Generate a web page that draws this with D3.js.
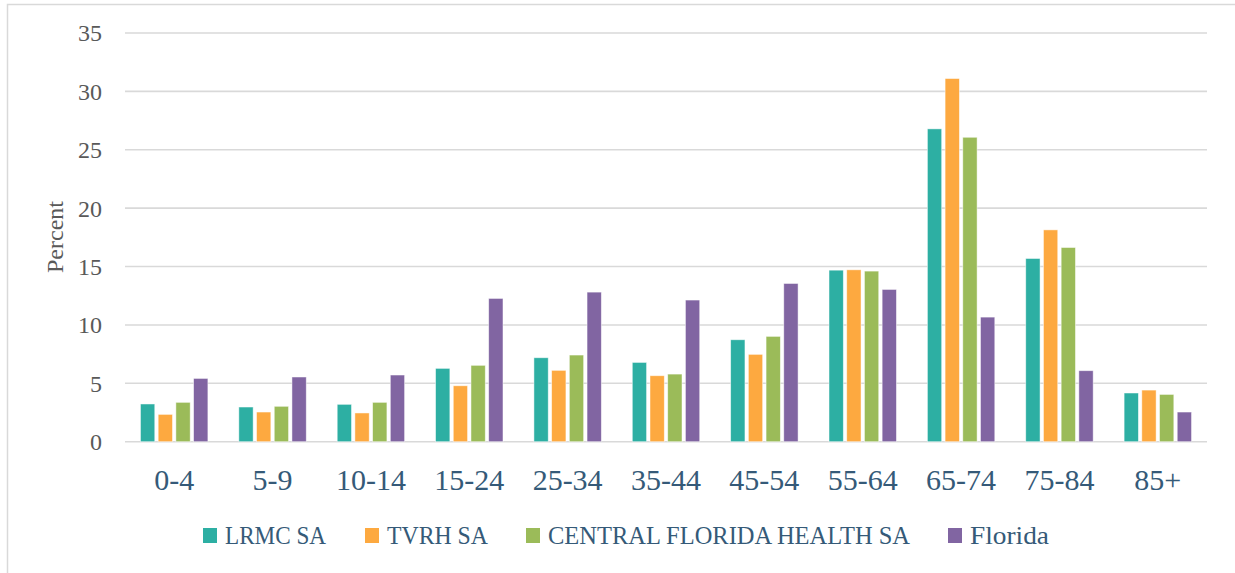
<!DOCTYPE html>
<html>
<head>
<meta charset="utf-8">
<script src="https://cdn.jsdelivr.net/npm/d3@7"></script>
<style>
  html, body { margin: 0; padding: 0; background: #fff; }
  svg { display: block; font-family: "Liberation Serif", "DejaVu Serif", serif; }
</style>
</head>
<body>
<svg id="chart" width="1235" height="573"></svg>
<script>
// Age groups and series (percent)
const categories = ["0-4", "5-9", "10-14", "15-24", "25-34", "35-44", "45-54", "55-64", "65-74", "75-84", "85+"];
const seriesNames = ["LRMC SA", "TVRH SA", "CENTRAL FLORIDA HEALTH SA", "Florida"];
const seriesColors = ["#2DAFA3", "#FDA940", "#9BBB59", "#8165A2"];

const lrmc    = [3.23, 2.97, 3.2, 6.28, 7.19, 6.79, 8.73, 14.69, 26.79, 15.69, 4.17];
const tvrh    = [2.34, 2.54, 2.46, 4.79, 6.11, 5.65, 7.48, 14.72, 31.1, 18.14, 4.42];
const central = [3.37, 3.03, 3.37, 6.54, 7.42, 5.79, 9.02, 14.61, 26.07, 16.63, 4.05];
const florida = [5.42, 5.54, 5.71, 12.27, 12.81, 12.13, 13.55, 13.04, 10.67, 6.08, 2.54];
const seriesValues = [lrmc, tvrh, central, florida];

const yTicks = [0, 5, 10, 15, 20, 25, 30, 35];

const legendX = [203, 365, 526, 948];
const legendWidths = [101, 101, 362, 79];

const svg = d3.select("#chart");

// outer frame (right/bottom fall outside the view)
svg.append("rect")
  .attr("x", 7.5).attr("y", 4.5)
  .attr("width", 1400).attr("height", 1000)
  .attr("fill", "none")
  .attr("stroke", "#d9d9d9")
  .attr("stroke-width", 1.5);

const plot = { left: 125, right: 1207, top: 33, bottom: 441.7 };

const y = d3.scaleLinear().domain([0, 35]).range([plot.bottom, plot.top]);

const x0 = d3.scaleBand()
  .domain(categories)
  .range([plot.left, plot.right])
  .paddingInner(0.28)
  .paddingOuter(0.14);

const x1 = d3.scaleBand()
  .domain(d3.range(seriesNames.length))
  .range([0, x0.bandwidth()]);

// gridlines
svg.append("g")
  .selectAll("line")
  .data(yTicks)
  .join("line")
  .attr("x1", plot.left).attr("x2", plot.right)
  .attr("y1", d => y(d)).attr("y2", d => y(d))
  .attr("stroke", "#d9d9d9")
  .attr("stroke-width", 1.6);

// y tick labels
svg.append("g")
  .selectAll("text")
  .data(yTicks)
  .join("text")
  .attr("x", 102)
  .attr("y", d => y(d))
  .attr("dy", "0.35em")
  .attr("text-anchor", "end")
  .attr("fill", "#595959")
  .attr("font-size", 24)
  .text(d => d);

// y axis title
svg.append("text")
  .attr("transform", "translate(63,237) rotate(-90)")
  .attr("text-anchor", "middle")
  .attr("fill", "#595959")
  .attr("font-size", 24)
  .text("Percent");

// bars
const rows = categories.map((c, i) => ({ cat: c, vals: seriesValues.map(s => s[i]) }));

const groups = svg.append("g")
  .selectAll("g")
  .data(rows)
  .join("g")
  .attr("transform", d => `translate(${x0(d.cat)},0)`);

const inset = 1.7;
groups.selectAll("rect")
  .data(d => d.vals.map((v, k) => ({ v, k })))
  .join("rect")
  .attr("x", d => x1(d.k) + inset)
  .attr("width", x1.bandwidth() - inset * 2)
  .attr("y", d => y(d.v))
  .attr("height", d => y(0) - y(d.v))
  .attr("fill", d => seriesColors[d.k])
  .attr("stroke", "#ffffff")
  .attr("stroke-opacity", 0.6)
  .attr("stroke-width", 0.8);

// category labels
svg.append("g")
  .selectAll("text")
  .data(categories)
  .join("text")
  .attr("x", d => x0(d) + x0.bandwidth() / 2)
  .attr("y", 490)
  .attr("text-anchor", "middle")
  .attr("fill", "#355A78")
  .attr("font-size", 30)
  .text(d => d);

// legend
const legend = svg.append("g")
  .selectAll("g")
  .data(seriesNames)
  .join("g")
  .attr("transform", (d, i) => `translate(${legendX[i]},0)`);

legend.append("rect")
  .attr("x", 0).attr("y", 528)
  .attr("width", 14).attr("height", 15)
  .attr("fill", (d, i) => seriesColors[i]);

legend.append("text")
  .attr("x", 22)
  .attr("y", 544)
  .attr("fill", "#355A78")
  .attr("font-size", 26)
  .attr("textLength", (d, i) => legendWidths[i])
  .attr("lengthAdjust", "spacingAndGlyphs")
  .text(d => d);
</script>
</body>
</html>
